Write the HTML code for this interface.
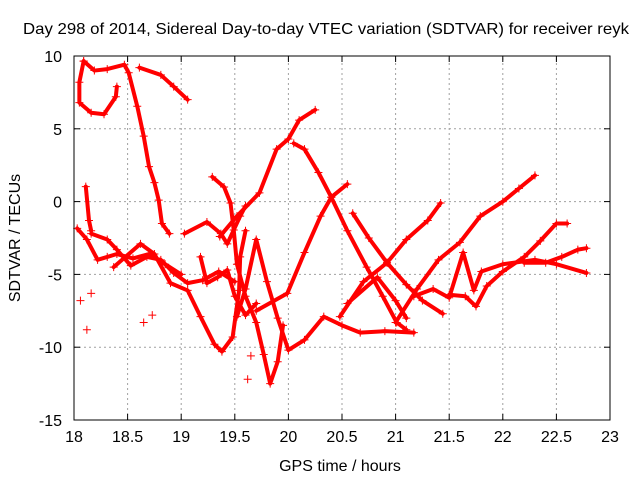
<!DOCTYPE html>
<html><head><meta charset="utf-8"><style>
body{margin:0;background:#fff}
svg{display:block;font-family:"Liberation Sans",sans-serif}
</style></head><body>
<svg id="chart" width="640" height="480" viewBox="0 0 640 480" xmlns="http://www.w3.org/2000/svg">
<rect width="640" height="480" fill="#fff"/>
<text x="326" y="34" font-size="16" text-anchor="middle" textLength="606" lengthAdjust="spacingAndGlyphs">Day 298 of 2014, Sidereal Day-to-day VTEC variation (SDTVAR) for receiver reyk</text>
<g id="grid"></g><g id="ticks"></g><g id="series"></g>
<rect x="74" y="56" width="536" height="364" fill="none" stroke="#000" stroke-width="1"/>
<text x="340" y="471" font-size="16" text-anchor="middle">GPS time / hours</text>
<text x="20" y="238" font-size="16" text-anchor="middle" transform="rotate(-90 20 238)">SDTVAR / TECUs</text>
</svg>
<script>
const xTicks=[18,18.5,19,19.5,20,20.5,21,21.5,22,22.5,23];
const xTickLabels=["18","18.5","19","19.5","20","20.5","21","21.5","22","22.5","23"];
const yTicks=[-15,-10,-5,0,5,10];
const yTickLabels=["-15","-10","-5","0","5","10"];
const trackTopLoop=[[18.09,9.65],[18.05,8.2],[18.05,6.8],[18.16,6.1],[18.28,6.0],[18.39,7.2],[18.4,7.9]];
const trackTopDrop=[[18.09,9.65],[18.19,9.0],[18.31,9.1],[18.47,9.4],[18.51,8.85],[18.59,6.55],[18.65,4.5],[18.7,2.4],[18.75,1.3],[18.79,0.1],[18.82,-1.5],[18.89,-2.2]];
const trackTopArc=[[18.61,9.2],[18.81,8.7],[18.93,7.9],[19.06,7.0]];
const trackShortDrop=[[18.11,1.03],[18.14,-1.3],[18.16,-2.0]];
const trackBandA=[[18.03,-1.84],[18.12,-2.6],[18.22,-4.0],[18.31,-3.8],[18.4,-3.6],[18.55,-3.9],[18.7,-3.6],[18.85,-4.3],[19.0,-5.0]];
const trackBandB=[[18.16,-2.2],[18.31,-2.6],[18.4,-3.3],[18.53,-4.4],[18.68,-3.8],[18.81,-4.0],[18.93,-4.9],[19.06,-5.6],[19.2,-5.4],[19.35,-4.8],[19.5,-5.5]];
const trackV=[[18.37,-4.5],[18.62,-2.9],[18.75,-3.6],[18.9,-5.6],[19.06,-6.1],[19.18,-7.9],[19.31,-9.8],[19.38,-10.3],[19.48,-9.3],[19.54,-6.1],[19.55,-3.8],[19.6,-2.0]];
const trackArch=[[19.03,-2.2],[19.24,-1.4],[19.37,-2.2],[19.43,-2.9],[19.55,-1.0],[19.6,-0.3]];
const trackMidDrop=[[19.29,1.7],[19.4,1.0],[19.46,-0.1],[19.49,-1.95],[19.52,-4.3],[19.6,-6.5],[19.7,-8.3],[19.77,-10.5],[19.83,-12.5],[19.9,-11.0],[19.95,-8.5]];
const trackLoopSmall=[[19.18,-3.8],[19.24,-5.6],[19.34,-5.2],[19.43,-4.7],[19.5,-6.5],[19.6,-7.8],[19.7,-7.0]];
const trackRiseC=[[19.36,-2.4],[19.52,-1.0],[19.73,0.6],[19.89,3.6],[20.0,4.3],[20.1,5.6],[20.25,6.3]];
const trackLowLeft=[[19.52,-7.9],[19.6,-6.0],[19.7,-2.6],[19.8,-5.5],[19.9,-8.0],[20.0,-10.2],[20.15,-9.5],[20.33,-7.9],[20.5,-8.5],[20.67,-9.0],[20.9,-8.9],[21.17,-9.0]];
const trackD=[[20.05,4.0],[20.15,3.6],[20.28,2.0],[20.4,0.3],[20.55,-2.0],[20.73,-4.5],[20.88,-6.5],[21.01,-8.3],[21.1,-8.8]];
const trackRiseX=[[19.7,-7.5],[19.99,-6.3],[20.15,-3.5],[20.3,-1.0],[20.4,0.3],[20.55,1.2]];
const trackE=[[20.6,-0.8],[20.75,-2.5],[20.92,-4.2],[21.1,-5.7],[21.25,-6.8],[21.44,-7.7]];
const trackRiseF=[[20.48,-7.9],[20.7,-5.5],[20.92,-4.2],[21.1,-2.6],[21.3,-1.3],[21.42,-0.1]];
const trackRiseG=[[20.55,-7.0],[20.83,-5.2],[21.0,-6.8],[21.1,-8.0]];
const trackLong=[[21.0,-8.3],[21.2,-6.0],[21.4,-4.0],[21.6,-2.8],[21.79,-1.0],[22.0,0.0],[22.15,0.9],[22.3,1.8]];
const trackRight1=[[21.17,-6.5],[21.35,-6.0],[21.5,-6.6],[21.63,-3.5],[21.73,-6.1],[21.8,-4.8],[22.0,-4.3],[22.3,-4.0],[22.5,-4.3],[22.78,-4.9]];
const trackRight2=[[21.5,-6.4],[21.65,-6.5],[21.75,-7.2],[21.85,-5.8],[22.0,-4.8],[22.2,-3.8],[22.35,-2.7],[22.5,-1.5],[22.6,-1.5]];
const trackRight3=[[22.2,-4.2],[22.4,-4.2],[22.55,-3.8],[22.7,-3.3],[22.78,-3.2]];
const tracks=[trackTopLoop,trackTopDrop,trackTopArc,trackShortDrop,trackBandA,trackBandB,trackV,trackArch,trackMidDrop,trackLoopSmall,trackRiseC,trackLowLeft,trackD,trackRiseX,trackE,trackRiseF,trackRiseG,trackLong,trackRight1,trackRight2,trackRight3];
const isolatedX=[18.06,18.16,18.12,18.65,18.73,19.65,19.62];
const isolatedY=[-6.8,-6.3,-8.8,-8.3,-7.8,-10.6,-12.2];

const NS="http://www.w3.org/2000/svg";
const X0=74,X1=610,Y0=420,Y1=56;
const sx=v=>X0+(v-18)/(23-18)*(X1-X0);
const sy=v=>Y0-(v+15)/(10+15)*(Y0-Y1);
function mk(tag,attrs,parent){const e=document.createElementNS(NS,tag);for(const k in attrs)e.setAttribute(k,attrs[k]);parent.appendChild(e);return e;}
const grid=document.getElementById('grid'),ticks=document.getElementById('ticks'),series=document.getElementById('series');
xTicks.forEach((t,i)=>{const x=sx(t);
 if(i>0&&i<xTicks.length-1){const g=mk('line',{x1:x,x2:x,y1:Y0,y2:Y1,stroke:'#a0a0a0','stroke-dasharray':'2,3'},grid);
 
 }
 mk('line',{x1:x,x2:x,y1:Y0,y2:Y0-6,stroke:'#000'},ticks);mk('line',{x1:x,x2:x,y1:Y1,y2:Y1+6,stroke:'#000'},ticks);
 const l=mk('text',{x:x,y:Y0+22,'font-size':16,'text-anchor':'middle'},ticks);l.textContent=xTickLabels[i];
 
 });
yTicks.forEach((t,i)=>{const y=sy(t);
 if(i>0&&i<yTicks.length-1){const g=mk('line',{x1:X0,x2:X1,y1:y,y2:y,stroke:'#a0a0a0','stroke-dasharray':'2,3'},grid);
 
 }
 mk('line',{x1:X0,x2:X0+6,y1:y,y2:y,stroke:'#000'},ticks);mk('line',{x1:X1,x2:X1-6,y1:y,y2:y,stroke:'#000'},ticks);
 const l=mk('text',{x:X0-12,y:y+6,'font-size':16,'text-anchor':'end'},ticks);l.textContent=yTickLabels[i];
 
 });
function plus(x,y,s,parent){mk('path',{d:`M${x-s},${y}H${x+s}M${x},${y-s}V${y+s}`,stroke:'#f00','stroke-width':1,fill:'none'},parent);}
tracks.forEach(tr=>{
 const g=mk('g',{},series);
 
 
 mk('polyline',{points:tr.map(p=>sx(p[0])+','+sy(p[1])).join(' '),fill:'none',stroke:'#f00','stroke-width':4,'stroke-linejoin':'round','stroke-linecap':'round'},g);
 tr.forEach(p=>plus(sx(p[0]),sy(p[1]),4,g));
});
isolatedX.forEach((v,i)=>{const g=mk('g',{},series);
 
 
 plus(sx(v),sy(isolatedY[i]),4,g);});
</script>
</body></html>
